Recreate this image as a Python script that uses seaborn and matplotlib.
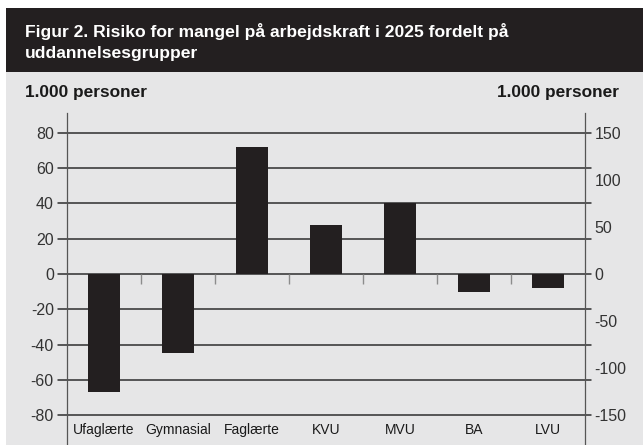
import numpy as np
import pandas as pd
import matplotlib
matplotlib.use("Agg")
import matplotlib.pyplot as plt
import seaborn as sns
from matplotlib.patches import Rectangle

# ---- data ----
categories = ["Ufaglærte", "Gymnasial", "Faglærte", "KVU", "MVU", "BA", "LVU"]
values = [-67, -45, 72, 27.5, 40.5, -10, -8]
left_ticks = [-80, -60, -40, -20, 0, 20, 40, 60, 80]
right_ticks = [-150, -100, -50, 0, 50, 100, 150]
title_lines = ["Figur 2. Risiko for mangel på arbejdskraft i 2025 fordelt på",
               "uddannelsesgrupper"]
unit_label = "1.000 personer"

sns.set_style("white")
plt.rcParams["font.family"] = ["Liberation Sans", "DejaVu Sans"]

W, H = 643, 445
fig = plt.figure(figsize=(W / 100, H / 100), dpi=100)
fig.patch.set_facecolor("white")

DARK = "#231f20"
GRAY = "#e6e6e7"

# background panels (figure pixel geometry)
fig.patches.append(Rectangle((6 / W, 0), 1 - 6 / W, (H - 72) / H,
                             transform=fig.transFigure, facecolor=GRAY, edgecolor="none", zorder=-5))
fig.patches.append(Rectangle((6 / W, (H - 72) / H), 1 - 6 / W, 64 / H,
                             transform=fig.transFigure, facecolor=DARK, edgecolor="none", zorder=-5))

# title
fig.text(25 / W, 1 - 37 / H, title_lines[0], color="white", fontsize=12.6, fontweight="bold",
         va="baseline", ha="left")
fig.text(25 / W, 1 - 58 / H, title_lines[1], color="white", fontsize=12.6, fontweight="bold",
         va="baseline", ha="left")
fig.text(25 / W, 1 - 96.5 / H, unit_label, color="#1a1a1a", fontsize=12.4, fontweight="bold",
         va="baseline", ha="left")
fig.text(619 / W, 1 - 96.5 / H, unit_label, color="#1a1a1a", fontsize=12.4, fontweight="bold",
         va="baseline", ha="right")

# axes
ax_left, ax_right = 67 / W, 585 / W
ax_top = 113 / H
ax = fig.add_axes([ax_left, 0, ax_right - ax_left, 1 - ax_top])
ax.set_facecolor("none")

df = pd.DataFrame({"cat": categories, "val": values})
sns.barplot(data=df, x="cat", y="val", color=DARK, saturation=1, width=0.42, ax=ax,
            zorder=3, linewidth=0, edgecolor=DARK)

ylo, yhi = -97, 91.3
ax.set_ylim(ylo, yhi)
ax.set_xlim(-0.5, len(categories) - 0.5)

# gridlines extending slightly beyond the spines
for y in left_ticks:
    ax.plot([-0.018, 1.012], [y, y], transform=ax.get_yaxis_transform(), clip_on=False,
            color="#2e2e2e", lw=1.1, zorder=1)

# separator ticks below zero line
seps = np.arange(len(categories) - 1) + 0.5
ax.vlines(seps, 0, -5.7, color="#8c8c8c", lw=1, zorder=2)

ax.set_yticks(left_ticks)
ax.set_yticklabels([str(t) for t in left_ticks])
ax.tick_params(axis="y", length=0, pad=9.5, labelsize=11.5, labelcolor="#333333")
ax.tick_params(axis="x", length=0, pad=-15.5, labelsize=10, labelcolor="#1a1a1a")
ax.set_xlabel("")
ax.set_ylabel("")

for s in ["top", "bottom"]:
    ax.spines[s].set_visible(False)
for s in ["left", "right"]:
    ax.spines[s].set_color("#555555")
    ax.spines[s].set_linewidth(0.9)

ax2 = ax.twinx()
ax2.set_facecolor("none")
scale = 150 / 80
ax2.set_ylim(ylo * scale, yhi * scale)
ax2.set_yticks(right_ticks)
ax2.set_yticklabels([str(t) for t in right_ticks])
ax2.tick_params(axis="y", length=0, pad=7, labelsize=11.5, labelcolor="#333333")
for s in ax2.spines.values():
    s.set_visible(False)

fig.savefig("out.png", dpi=100)
